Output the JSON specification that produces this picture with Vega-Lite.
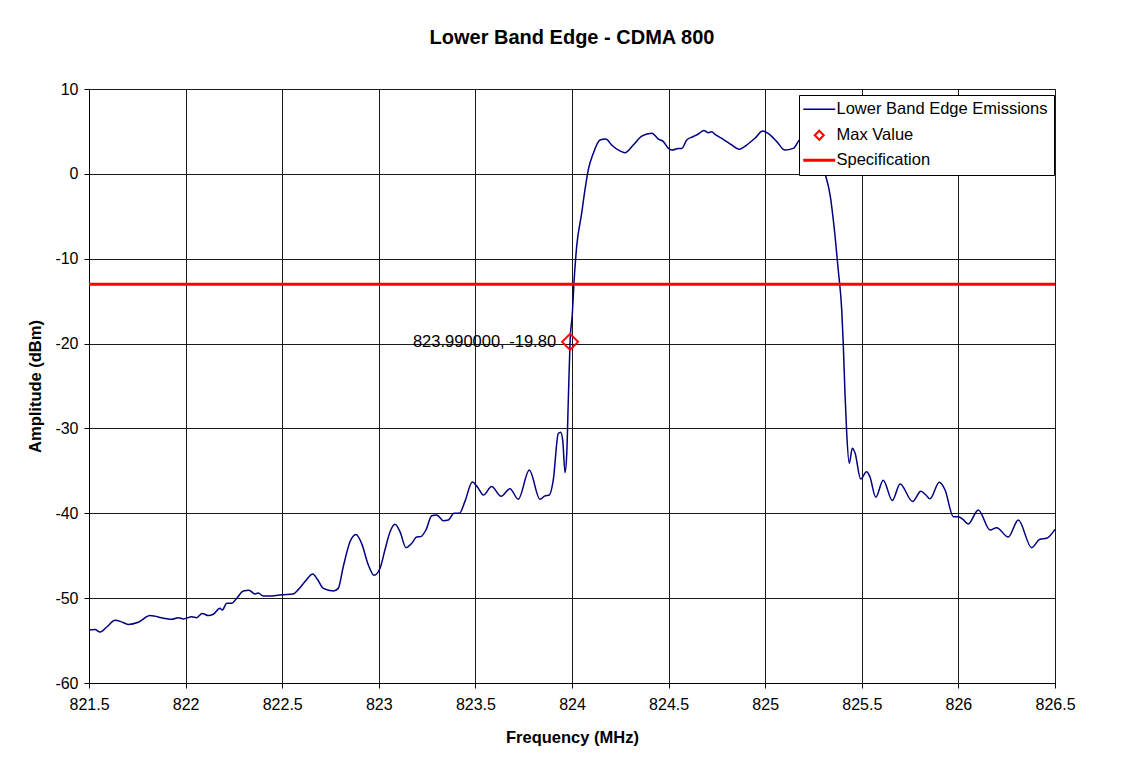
{
  "$schema": "https://vega.github.io/schema/vega-lite/v6.json",
  "autosize": "none",
  "width": 966,
  "height": 594,
  "padding": {"left": 89, "top": 89, "right": 83, "bottom": 92},
  "background": "white",
  "title": {
    "text": "Lower Band Edge - CDMA 800",
    "font": "Liberation Sans",
    "fontSize": 20,
    "fontWeight": "bold",
    "color": "black",
    "anchor": "middle",
    "offset": 33
  },
  "datasets": {
    "trace": [
      {"freq": 821.5, "amp": -53.75}, {"freq": 821.531, "amp": -53.7}, {"freq": 821.557, "amp": -54.0},
      {"freq": 821.592, "amp": -53.4}, {"freq": 821.635, "amp": -52.6}, {"freq": 821.669, "amp": -52.8},
      {"freq": 821.703, "amp": -53.1}, {"freq": 821.755, "amp": -52.85}, {"freq": 821.816, "amp": -52.06},
      {"freq": 821.893, "amp": -52.4}, {"freq": 821.928, "amp": -52.5}, {"freq": 821.962, "amp": -52.3},
      {"freq": 821.988, "amp": -52.45}, {"freq": 822.032, "amp": -52.2}, {"freq": 822.057, "amp": -52.3},
      {"freq": 822.086, "amp": -51.8}, {"freq": 822.118, "amp": -52.06}, {"freq": 822.143, "amp": -51.9},
      {"freq": 822.178, "amp": -51.2}, {"freq": 822.19, "amp": -51.4}, {"freq": 822.213, "amp": -50.6},
      {"freq": 822.239, "amp": -50.6}, {"freq": 822.265, "amp": -50.0}, {"freq": 822.299, "amp": -49.15},
      {"freq": 822.328, "amp": -49.07}, {"freq": 822.359, "amp": -49.5}, {"freq": 822.376, "amp": -49.4},
      {"freq": 822.402, "amp": -49.75}, {"freq": 822.446, "amp": -49.75}, {"freq": 822.497, "amp": -49.6},
      {"freq": 822.557, "amp": -49.5}, {"freq": 822.583, "amp": -49.0}, {"freq": 822.618, "amp": -48.05},
      {"freq": 822.658, "amp": -47.15}, {"freq": 822.683, "amp": -47.8}, {"freq": 822.713, "amp": -48.85},
      {"freq": 822.765, "amp": -49.15}, {"freq": 822.79, "amp": -48.85}, {"freq": 822.816, "amp": -46.3},
      {"freq": 822.851, "amp": -43.35}, {"freq": 822.882, "amp": -42.5}, {"freq": 822.911, "amp": -43.55},
      {"freq": 822.946, "amp": -46.1}, {"freq": 822.975, "amp": -47.3}, {"freq": 823.006, "amp": -46.5},
      {"freq": 823.032, "amp": -44.3}, {"freq": 823.058, "amp": -42.2}, {"freq": 823.084, "amp": -41.3},
      {"freq": 823.11, "amp": -42.2}, {"freq": 823.141, "amp": -44.05}, {"freq": 823.17, "amp": -43.55},
      {"freq": 823.196, "amp": -42.8}, {"freq": 823.217, "amp": -42.75}, {"freq": 823.244, "amp": -41.97},
      {"freq": 823.274, "amp": -40.3}, {"freq": 823.3, "amp": -40.2}, {"freq": 823.334, "amp": -40.87},
      {"freq": 823.36, "amp": -40.8}, {"freq": 823.389, "amp": -40.0}, {"freq": 823.417, "amp": -40.0},
      {"freq": 823.446, "amp": -38.6}, {"freq": 823.484, "amp": -36.3}, {"freq": 823.515, "amp": -37.05},
      {"freq": 823.541, "amp": -37.85}, {"freq": 823.584, "amp": -36.85}, {"freq": 823.633, "amp": -38.0},
      {"freq": 823.679, "amp": -37.1}, {"freq": 823.722, "amp": -38.35}, {"freq": 823.779, "amp": -34.9},
      {"freq": 823.834, "amp": -38.35}, {"freq": 823.86, "amp": -37.95}, {"freq": 823.883, "amp": -37.85},
      {"freq": 823.903, "amp": -36.1}, {"freq": 823.929, "amp": -30.6}, {"freq": 823.941, "amp": -30.45},
      {"freq": 823.952, "amp": -31.4}, {"freq": 823.964, "amp": -35.2}, {"freq": 823.973, "amp": -32.9},
      {"freq": 823.981, "amp": -26.6}, {"freq": 823.99, "amp": -19.8}, {"freq": 824.002, "amp": -16.4},
      {"freq": 824.01, "amp": -12.9}, {"freq": 824.024, "amp": -8.6}, {"freq": 824.05, "amp": -4.65},
      {"freq": 824.067, "amp": -1.9}, {"freq": 824.084, "amp": 0.45}, {"freq": 824.11, "amp": 2.4},
      {"freq": 824.145, "amp": 4.0}, {"freq": 824.176, "amp": 4.1}, {"freq": 824.205, "amp": 3.4},
      {"freq": 824.248, "amp": 2.7}, {"freq": 824.274, "amp": 2.5}, {"freq": 824.317, "amp": 3.4},
      {"freq": 824.361, "amp": 4.45}, {"freq": 824.413, "amp": 4.8}, {"freq": 824.447, "amp": 4.1},
      {"freq": 824.473, "amp": 3.8}, {"freq": 824.499, "amp": 3.0}, {"freq": 824.519, "amp": 2.8},
      {"freq": 824.55, "amp": 3.0}, {"freq": 824.568, "amp": 3.0}, {"freq": 824.594, "amp": 4.0},
      {"freq": 824.628, "amp": 4.4}, {"freq": 824.654, "amp": 4.7}, {"freq": 824.683, "amp": 5.1},
      {"freq": 824.706, "amp": 4.85}, {"freq": 824.723, "amp": 4.95}, {"freq": 824.74, "amp": 4.65},
      {"freq": 824.783, "amp": 4.07}, {"freq": 824.827, "amp": 3.4}, {"freq": 824.864, "amp": 2.9},
      {"freq": 824.904, "amp": 3.4}, {"freq": 824.947, "amp": 4.2}, {"freq": 824.987, "amp": 5.05},
      {"freq": 825.025, "amp": 4.6}, {"freq": 825.06, "amp": 3.8}, {"freq": 825.102, "amp": 2.8},
      {"freq": 825.145, "amp": 3.0}, {"freq": 825.177, "amp": 4.0}, {"freq": 825.206, "amp": 4.5},
      {"freq": 825.242, "amp": 4.2}, {"freq": 825.273, "amp": 2.5}, {"freq": 825.31, "amp": 0.0},
      {"freq": 825.336, "amp": -2.5}, {"freq": 825.361, "amp": -7.2}, {"freq": 825.378, "amp": -11.3},
      {"freq": 825.396, "amp": -16.0}, {"freq": 825.404, "amp": -20.0}, {"freq": 825.413, "amp": -25.9},
      {"freq": 825.422, "amp": -30.6}, {"freq": 825.435, "amp": -34.1}, {"freq": 825.451, "amp": -32.35},
      {"freq": 825.465, "amp": -32.9}, {"freq": 825.494, "amp": -35.95}, {"freq": 825.525, "amp": -35.1},
      {"freq": 825.542, "amp": -35.7}, {"freq": 825.572, "amp": -38.1}, {"freq": 825.611, "amp": -36.1},
      {"freq": 825.658, "amp": -38.5}, {"freq": 825.698, "amp": -36.55}, {"freq": 825.763, "amp": -38.6},
      {"freq": 825.806, "amp": -37.4}, {"freq": 825.832, "amp": -37.85}, {"freq": 825.853, "amp": -38.3},
      {"freq": 825.901, "amp": -36.35}, {"freq": 825.931, "amp": -37.25}, {"freq": 825.974, "amp": -40.4},
      {"freq": 826.0, "amp": -40.4}, {"freq": 826.022, "amp": -40.7}, {"freq": 826.051, "amp": -41.26},
      {"freq": 826.103, "amp": -39.6}, {"freq": 826.164, "amp": -41.97}, {"freq": 826.198, "amp": -41.7},
      {"freq": 826.258, "amp": -42.8}, {"freq": 826.31, "amp": -40.8}, {"freq": 826.379, "amp": -44.05},
      {"freq": 826.422, "amp": -43.06}, {"freq": 826.457, "amp": -42.95}, {"freq": 826.5, "amp": -41.9}
    ],
    "maxval": [{"freq": 823.99, "amp": -19.8, "label": "823.990000, -19.80"}],
    "spec": [{"amp": -13}]
  },
  "layer": [
    {
      "data": {"name": "trace"},
      "mark": {"type": "line", "strokeWidth": 1.5, "interpolate": "monotone"},
      "encoding": {
        "x": {
          "field": "freq", "type": "quantitative",
          "scale": {"domain": [821.5, 826.5], "nice": false, "zero": false},
          "axis": {
            "title": "Frequency (MHz)",
            "values": [821.5, 822, 822.5, 823, 823.5, 824, 824.5, 825, 825.5, 826, 826.5],
            "labelExpr": "toString(datum.value)",
            "labelFlush": false,
            "titleX": 483, "titleY": 54, "titleAlign": "center", "titleBaseline": "middle"
          }
        },
        "y": {
          "field": "amp", "type": "quantitative",
          "scale": {"domain": [-60, 10], "nice": false, "zero": false},
          "axis": {
            "title": "Amplitude (dBm)",
            "values": [-60, -50, -40, -30, -20, -10, 0, 10],
            "labelExpr": "toString(datum.value)",
            "labelFlush": false,
            "titleX": -54, "titleY": 297, "titleAlign": "center", "titleBaseline": "middle", "titleAngle": 270
          }
        },
        "color": {
          "datum": "Lower Band Edge Emissions",
          "scale": {
            "domain": ["Lower Band Edge Emissions", "Max Value", "Specification"],
            "range": ["#000080", "#FF0000", "#FF0000"]
          },
          "legend": {
            "title": null,
            "orient": "none",
            "legendX": 710,
            "legendY": 6,
            "padding": 6,
            "strokeColor": "black",
            "fillColor": "white",
            "labelFont": "Liberation Sans",
            "labelFontSize": 16.5,
            "labelColor": "black",
            "labelLimit": 0,
            "labelOffset": 15,
            "symbolSize": 400,
            "rowPadding": 8,
            "cornerRadius": 0,
            "encode": {
              "symbols": {
                "update": {
                  "shape": {"signal": "datum.value === 'Max Value' ? 'M0.6,-0.45L1.05,0L0.6,0.45L0.15,0Z' : 'M-1,0L2.2,0'"},
                  "stroke": {"signal": "datum.value === 'Lower Band Edge Emissions' ? '#000080' : '#FF0000'"},
                  "fill": {"value": "transparent"},
                  "strokeWidth": {"signal": "datum.value === 'Specification' ? 3 : (datum.value === 'Max Value' ? 2 : 1.5)"},
                  "opacity": {"value": 1}
                }
              }
            }
          }
        }
      }
    },
    {
      "data": {"name": "spec"},
      "mark": {"type": "rule", "strokeWidth": 3},
      "encoding": {
        "y": {"field": "amp", "type": "quantitative"},
        "color": {"datum": "Specification"}
      }
    },
    {
      "data": {"name": "maxval"},
      "mark": {"type": "point", "shape": "diamond", "filled": false, "size": 256, "strokeWidth": 2, "opacity": 1},
      "encoding": {
        "x": {"field": "freq", "type": "quantitative"},
        "y": {"field": "amp", "type": "quantitative"},
        "color": {"datum": "Max Value"}
      }
    },
    {
      "data": {"name": "maxval"},
      "mark": {"type": "text", "align": "right", "baseline": "middle", "dx": -14, "font": "Liberation Sans", "fontSize": 16.5, "color": "black"},
      "encoding": {
        "x": {"field": "freq", "type": "quantitative"},
        "y": {"field": "amp", "type": "quantitative"},
        "text": {"field": "label"}
      }
    }
  ],
  "config": {
    "view": {"stroke": "#808080", "strokeWidth": 1},
    "axis": {
      "labelFont": "Liberation Sans",
      "labelFontSize": 16,
      "labelColor": "black",
      "titleFont": "Liberation Sans",
      "titleFontSize": 16.5,
      "titleFontWeight": "bold",
      "titleColor": "black",
      "domainColor": "black",
      "tickColor": "black",
      "tickSize": 5,
      "gridColor": "#1a1a1a",
      "gridWidth": 1,
      "grid": true
    },
    "axisX": {"labelPadding": 8},
    "axisY": {"labelPadding": 6}
  }
}
